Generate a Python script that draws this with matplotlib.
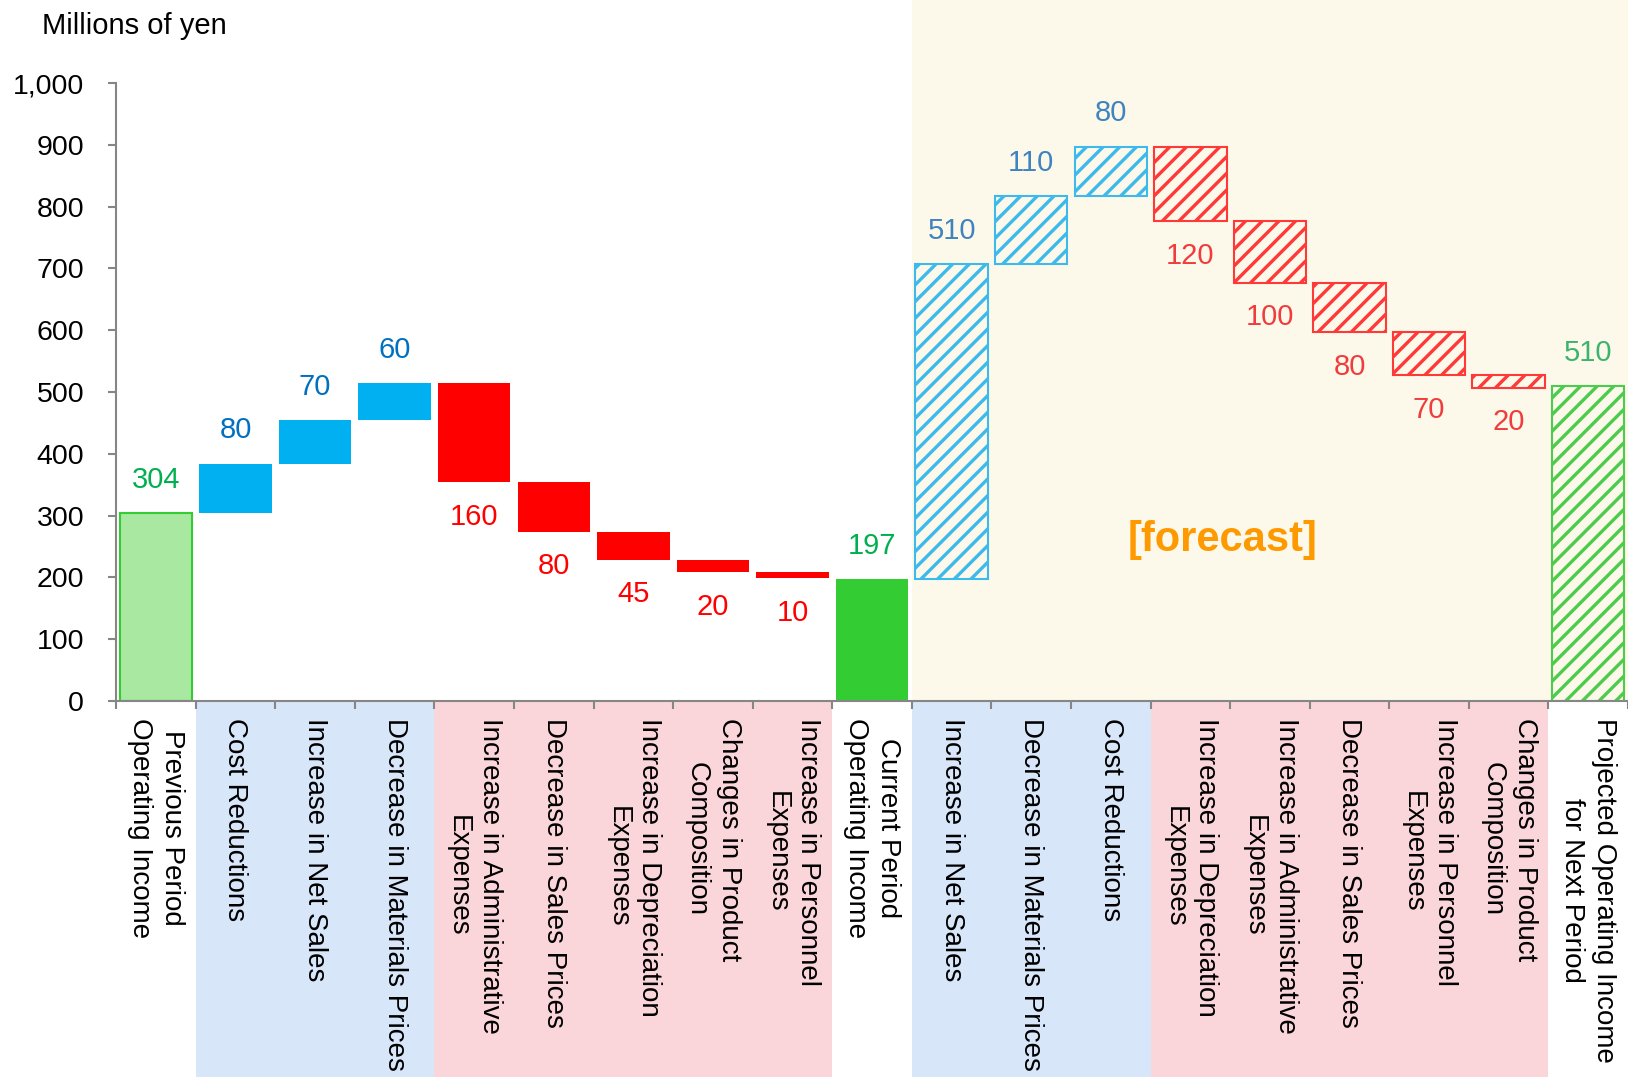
import matplotlib
matplotlib.use("Agg")
import matplotlib.pyplot as plt
import matplotlib.transforms as mtransforms
from matplotlib.patches import Rectangle
from matplotlib.ticker import FuncFormatter

plt.rcParams['font.family'] = ['Liberation Sans', 'DejaVu Sans']
plt.rcParams['hatch.linewidth'] = 2.4

categories = [
    "Previous Period\nOperating Income", "Cost Reductions", "Increase in Net Sales",
    "Decrease in Materials Prices", "Increase in Administrative\nExpenses",
    "Decrease in Sales Prices", "Increase in Depreciation\nExpenses",
    "Changes in Product\nComposition", "Increase in Personnel\nExpenses",
    "Current Period\nOperating Income", "Increase in Net Sales",
    "Decrease in Materials Prices", "Cost Reductions",
    "Increase in Depreciation\nExpenses", "Increase in Administrative\nExpenses",
    "Decrease in Sales Prices", "Increase in Personnel\nExpenses",
    "Changes in Product\nComposition", "Projected Operating Income\nfor Next Period",
]
prev_income = 304
actual_changes = [80, 70, 60, -160, -80, -45, -20, -10]
current_income = 197
forecast_changes = [510, 110, 80, -120, -100, -80, -70, -20]
projected_income = 510

# build the waterfall segments: (bottom, height, kind, value, forecast?)
segments = [(0, prev_income, 'total_prev', prev_income, False)]
level = prev_income
for d in actual_changes:
    segments.append((min(level, level + d), abs(d), 'up' if d > 0 else 'down', abs(d), False))
    level += d
segments.append((0, current_income, 'total_cur', current_income, False))
level = current_income
for d in forecast_changes:
    segments.append((min(level, level + d), abs(d), 'up' if d > 0 else 'down', abs(d), True))
    level += d
segments.append((0, projected_income, 'total_fc', projected_income, True))

fig = plt.figure(figsize=(16.28, 10.77), dpi=100)
ax = fig.add_axes([0.0713, 0.3491, 0.9287, 0.5738])
ax.set_xlim(-0.5, len(categories) - 0.5)
ax.set_ylim(0, 1000)

trans = mtransforms.blended_transform_factory(ax.transData, ax.transAxes)

# forecast shaded area
first_fc = len(actual_changes) + 2
ax.add_patch(Rectangle((first_fc - 0.5, 0), len(categories) - first_fc, 1.2,
                       transform=trans, facecolor='#FCF9EA', edgecolor='none',
                       clip_on=False, zorder=0))

# label area backgrounds
for i, (b, h, kind, v, fc) in enumerate(segments):
    if kind in ('up', 'down'):
        col = '#D8E6F9' if kind == 'up' else '#FAD6DA'
        ax.add_patch(Rectangle((i - 0.5, -0.61), 1, 0.61, transform=trans,
                               facecolor=col, edgecolor='none', clip_on=False, zorder=0))

w = 0.91
for i, (b, h, kind, v, fc) in enumerate(segments):
    if not fc:
        if kind == 'total_prev':
            ax.bar(i, h, bottom=b, width=w, color='#A8E8A0', edgecolor='#33CC33', linewidth=1.5, zorder=2)
            lc = '#00B050'
        elif kind == 'total_cur':
            ax.bar(i, h, bottom=b, width=w, color='#33CC33', zorder=2)
            lc = '#00B050'
        elif kind == 'up':
            ax.bar(i, h, bottom=b, width=w, color='#00B0F0', zorder=2)
            lc = '#0070C0'
        else:
            ax.bar(i, h, bottom=b, width=w, color='#FF0000', zorder=2)
            lc = '#FF0000'
    else:
        ec = {'up': '#3DB9EC', 'down': '#FF3838', 'total_fc': '#4CCB4C'}[kind]
        ax.bar(i, h, bottom=b, width=w, color='none', edgecolor=ec, hatch='//',
               linewidth=1.5, zorder=2)
        lc = {'up': '#3F83BF', 'down': '#F03C3C', 'total_fc': '#3CB46E'}[kind]
    if kind == 'down':
        ax.annotate(str(v), (i, b), xytext=(0, -25), textcoords='offset points',
                    ha='center', va='center', fontsize=21, color=lc, zorder=3)
    else:
        ax.annotate(str(v), (i, b + h), xytext=(0, 24), textcoords='offset points',
                    ha='center', va='center', fontsize=21, color=lc, zorder=3)

ax.text(13.4, 260, '[forecast]', ha='center', va='center', fontsize=30,
        fontweight='bold', color='#FF9900', zorder=3)

ax.set_xticks(range(len(categories)))
ax.set_xticklabels(categories, rotation=270, ha='center', va='top',
                   multialignment='center', linespacing=1.3, fontsize=20)
ax.set_xticks([k + 0.5 for k in range(-1, len(categories))], minor=True)
ax.tick_params(axis='x', which='major', length=0, pad=12)
ax.tick_params(axis='x', which='minor', length=6, width=1.5, color='#868686', direction='out')
ax.set_yticks(range(0, 1001, 100))
ax.yaxis.set_major_formatter(FuncFormatter(lambda v, p: f'{v:,.0f}'))
ax.tick_params(axis='y', length=6, width=1.5, color='#868686', pad=17, labelsize=20.5)

for s in ('top', 'right'):
    ax.spines[s].set_visible(False)
for s in ('left', 'bottom'):
    ax.spines[s].set_color('#868686')
    ax.spines[s].set_linewidth(1.5)

fig.text(42 / 1628, 1 - 26 / 1077, 'Millions of yen', fontsize=21, va='center', ha='left')

fig.savefig('out.png', dpi=100)
